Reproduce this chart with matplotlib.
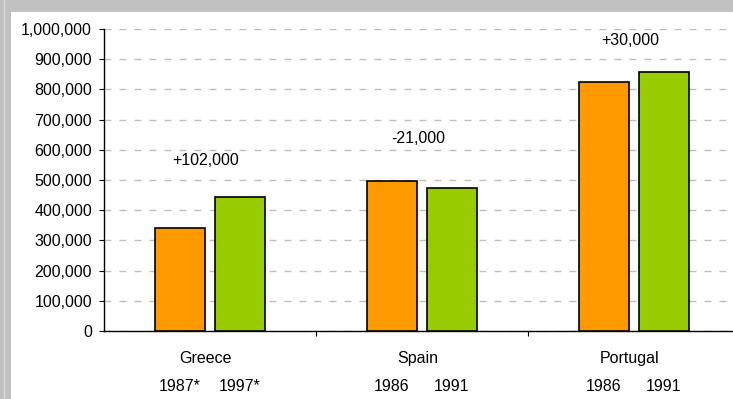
import numpy as np
import matplotlib.pyplot as plt
from matplotlib.patches import Rectangle
from matplotlib.ticker import FuncFormatter, MultipleLocator

# Dados
paises = ["Greece", "Spain", "Portugal"]
anos_a = ["1987*", "1986", "1986"]
anos_b = ["1997*", "1991", "1991"]
valores_a = [341000, 496000, 826000]
valores_b = [443000, 475000, 856000]
variacao = ["+102,000", "-21,000", "+30,000"]
altura_rotulo = [566000, 639000, 963000]

laranja = "#ff9900"
verde = "#99cc00"
fs = 11.5

plt.rcParams["font.family"] = ["Liberation Sans", "DejaVu Sans"]
plt.rcParams["font.size"] = fs

W, H = 733, 399
fig = plt.figure(figsize=(W / 100, H / 100), dpi=100, facecolor="#c0c0c0")

# moldura cinza com area branca
fig.patches.append(Rectangle((11 / W, 0), 1, 1 - 12 / H, transform=fig.transFigure,
                             facecolor="white", edgecolor="none", zorder=-10))
fig.lines.append(plt.Line2D([3.5 / W, 3.5 / W], [0, 1], transform=fig.transFigure,
                            color="#d8d8d8", lw=1, zorder=-10))

x0, x1 = 104, 740
y0, y1 = 331, 29
ax = fig.add_axes([x0 / W, 1 - y0 / H, (x1 - x0) / W, (y0 - y1) / H])
ax.set_facecolor("none")

x = np.arange(len(paises))
larg = 0.236
desl = 0.1415
ax.bar(x - desl, valores_a, larg, color=laranja, edgecolor="black", lw=1.2, zorder=3)
ax.bar(x + desl, valores_b, larg, color=verde, edgecolor="black", lw=1.2, zorder=3)

for xi, txt, yy in zip(x, variacao, altura_rotulo):
    ax.text(xi - 0.02, yy, txt, ha="center", va="center", fontsize=fs)

ax.set_xlim(-0.5, 2.5)
ax.set_ylim(0, 1000000)
ax.yaxis.set_major_locator(MultipleLocator(100000))
ax.yaxis.set_major_formatter(FuncFormatter(lambda v, p: f"{int(v):,}"))
ax.grid(axis="y", color="#c0c0c0", ls=(0, (5, 5.8)), lw=1, zorder=0)

ax.set_xticks([0.5, 1.5])
ax.set_xticklabels([])
ax.tick_params(axis="x", length=3.6, direction="out", color="black")
ax.tick_params(axis="y", length=3.6, direction="out", color="black", labelsize=fs, pad=5)

for s in ["top", "right"]:
    ax.spines[s].set_visible(False)
for s in ["left", "bottom"]:
    ax.spines[s].set_color("black")
    ax.spines[s].set_linewidth(1)

# rotulos das categorias e anos
trans = ax.get_xaxis_transform()
for xi, p, a, b in zip(x, paises, anos_a, anos_b):
    ax.text(xi - 0.02, -0.09, p, transform=trans, ha="center", va="center", fontsize=fs)
    ax.text(xi - desl, -0.185, a, transform=trans, ha="center", va="center", fontsize=fs)
    ax.text(xi + desl, -0.185, b, transform=trans, ha="center", va="center", fontsize=fs)

fig.savefig("out.png", dpi=100, facecolor=fig.get_facecolor())
